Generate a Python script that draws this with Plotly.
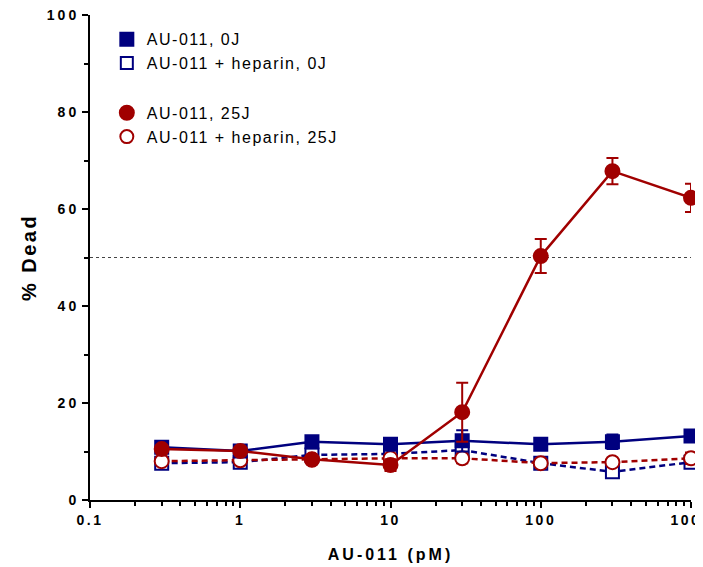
import plotly.graph_objects as go

conc = [0.3, 1, 3, 10, 30, 100, 300, 1000]

au_0j = [10.9, 10.1, 12.0, 11.5, 12.2, 11.5, 12.0, 13.2]
au_0j_err = [0.8, 0.6, 0.8, 0.6, 2.2, 0.6, 1.5, 1.0]

hep_0j = [7.6, 7.8, 9.3, 9.5, 10.3, 7.6, 5.8, 7.8]
hep_0j_err = [0.8, 0.6, 0.5, 0.8, 1.5, 0.8, 0.8, 1.0]

au_25j = [10.5, 10.1, 8.4, 7.2, 18.1, 50.3, 67.8, 62.3]
au_25j_err = [0.8, 0.8, 0.7, 1.2, 6.1, 3.5, 2.7, 2.9]

hep_25j = [8.0, 8.2, 8.3, 8.6, 8.6, 7.6, 7.8, 8.6]
hep_25j_err = [0.6, 0.6, 0.5, 0.6, 1.0, 0.6, 0.6, 1.2]

names = ["AU-011, 0J", "AU-011 + heparin, 0J", "AU-011, 25J", "AU-011 + heparin, 25J"]

x_ticks = [0.1, 1, 10, 100, 1000]
x_tick_labels = ["0.1", "1", "10", "100", "1000"]
y_ticks = [0, 20, 40, 60, 80, 100]
y_tick_labels = ["0", "20", "40", "60", "80", "100"]

NAVY = "#00007F"
RED = "#A00000"


def spaced(t, px):
    return f'<span style="letter-spacing:{px}px">{t}</span>'


fig = go.Figure()


def add(y, err, name, color, symbol, size, filled, dash):
    fig.add_trace(go.Scatter(
        x=conc, y=y, name=name, mode="lines+markers", showlegend=False,
        cliponaxis=False,
        line=dict(color=color, width=2.5, dash=dash),
        marker=dict(symbol=symbol, size=size,
                    color=color if filled else "white",
                    line=dict(color=color, width=2)),
        error_y=dict(type="data", array=err, visible=True,
                     color=color, thickness=2, width=6),
    ))


add(hep_0j, hep_0j_err, names[1], NAVY, "square", 13, False, "6px,4px")
add(hep_25j, hep_25j_err, names[3], RED, "circle", 14, False, "6px,4px")
add(au_0j, au_0j_err, names[0], NAVY, "square", 13, True, "solid")
add(au_25j, au_25j_err, names[2], RED, "circle", 14, True, "solid")

# legend-only entries (marker glyphs like the original)
legend_specs = [
    (names[0], NAVY, "square", 13, True, "a"),
    (names[1], NAVY, "square", 12, False, "a"),
    (names[2], RED, "circle", 14, True, "b"),
    (names[3], RED, "circle", 13, False, "b"),
]
for nm, col, sym, sz, filled, grp in legend_specs:
    fig.add_trace(go.Scatter(
        x=[None], y=[None], mode="markers", name=spaced(nm, 1.5), legendgroup=grp,
        marker=dict(symbol=sym, size=sz, color=col if filled else "white",
                    line=dict(color=col, width=2)),
    ))

# 50% reference line
fig.add_shape(type="line", xref="x", yref="y", x0=0.1, x1=1000, y0=50, y1=50,
              line=dict(color="#444444", width=1.2, dash="dot"), layer="below")

tickfont = dict(family="Liberation Sans, Arial", size=14, color="black", weight="bold")

fig.update_layout(
    width=703, height=567,
    margin=dict(l=82, r=20, t=7, b=75),
    paper_bgcolor="white", plot_bgcolor="white",
    font=dict(family="Liberation Sans, Arial", color="black"),
    legend=dict(x=0.028, y=0.985, xanchor="left", yanchor="top",
                xref="paper", yref="paper",
                font=dict(family="Liberation Sans, Arial", size=16, color="black"),
                tracegroupgap=26, itemwidth=30, bgcolor="rgba(0,0,0,0)",
                traceorder="grouped"),
    xaxis=dict(type="log", range=[-1, 3], automargin=False,
               showgrid=False, zeroline=False,
               showline=True, linecolor="black", linewidth=2,
               ticks="outside", ticklen=6, tickwidth=2, tickcolor="black",
               tickvals=x_ticks,
               ticktext=[spaced(t, 2.5) for t in x_tick_labels],
               tickfont=tickfont, ticklabeloverflow="allow",
               minor=dict(ticks="outside", ticklen=4, tickwidth=1.5, tickcolor="black",
                          tickvals=[m * d for d in [0.1, 1, 10, 100] for m in range(2, 10)]),
               title=dict(text=spaced("AU-011 (pM)", 3), standoff=22,
                          font=dict(family="Liberation Sans, Arial", size=16, weight="bold"))),
    yaxis=dict(range=[0, 100], automargin=False,
               showgrid=False, zeroline=False,
               showline=True, linecolor="black", linewidth=2,
               ticks="outside", ticklen=6, tickwidth=2, tickcolor="black",
               tickvals=y_ticks,
               ticktext=[spaced(t, 3) for t in y_tick_labels],
               tickfont=tickfont, ticklabeloverflow="allow",
               minor=dict(ticks="outside", ticklen=4, tickwidth=1.5, tickcolor="black",
                          tickvals=[10, 30, 50, 70, 90]),
               title=dict(text=spaced("% Dead", 2.5), standoff=5,
                          font=dict(family="Liberation Sans, Arial", size=20, weight="bold"))),
)

fig.write_html("out.html")
